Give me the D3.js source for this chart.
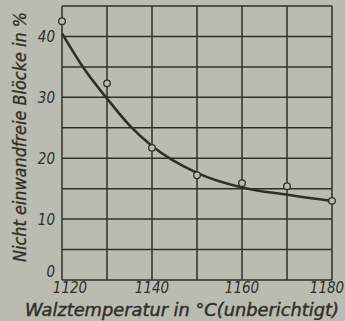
<!DOCTYPE html>
<html>
<head>
<meta charset="utf-8">
<script src="https://cdn.jsdelivr.net/npm/d3@7"></script>
<style>
  html, body { margin: 0; padding: 0; background: #bbbcb1; }
  svg { display: block; }
  text { font-family: "DejaVu Sans Condensed", "DejaVu Sans", sans-serif; font-style: italic; fill: #2f2f2a; }
</style>
</head>
<body>
<svg id="chart"></svg>
<script>
// Messpunkte (Kreise)
var pointTemps = [1120, 1130, 1140, 1150, 1160, 1170, 1180];
var pointValues = [42.5, 32.3, 21.7, 17.2, 15.9, 15.4, 13.0];

// Ausgleichskurve
var curveTemps = [1120, 1125, 1130, 1135, 1140, 1150, 1160, 1170, 1180];
var curveValues = [40.5, 34.6, 29.8, 25.4, 22.0, 17.6, 15.2, 14.0, 13.0];

// Achsenbeschriftung
var xTicks = [1120, 1140, 1160, 1180];
var yTicks = [0, 10, 20, 30, 40];

var width = 345,
    height = 321,
    margin = { top: 6, right: 13, bottom: 41, left: 62 };

var ink = "#2f2f2a";

var svg = d3.select("#chart")
  .attr("width", width)
  .attr("height", height);

var x = d3.scaleLinear()
  .domain([1120, 1180])
  .range([margin.left, width - margin.right]);

var y = d3.scaleLinear()
  .domain([0, 45])
  .range([height - margin.bottom, margin.top]);

// Gitter
svg.append("g")
  .selectAll("line")
  .data(d3.range(1120, 1181, 10))
  .enter().append("line")
  .attr("x1", function(d) { return x(d); })
  .attr("x2", function(d) { return x(d); })
  .attr("y1", y(0))
  .attr("y2", y(45))
  .attr("stroke", ink)
  .attr("stroke-width", 1.5);

svg.append("g")
  .selectAll("line")
  .data(d3.range(0, 46, 5))
  .enter().append("line")
  .attr("x1", x(1120))
  .attr("x2", x(1180))
  .attr("y1", function(d) { return y(d); })
  .attr("y2", function(d) { return y(d); })
  .attr("stroke", ink)
  .attr("stroke-width", 1.5);

// Kurve
var line = d3.line()
  .x(function(d) { return x(d[0]); })
  .y(function(d) { return y(d[1]); })
  .curve(d3.curveMonotoneX);

svg.append("path")
  .datum(d3.zip(curveTemps, curveValues))
  .attr("d", line)
  .attr("fill", "none")
  .attr("stroke", ink)
  .attr("stroke-width", 2.6);

// Punkte
svg.append("g")
  .selectAll("circle")
  .data(d3.zip(pointTemps, pointValues))
  .enter().append("circle")
  .attr("cx", function(d) { return x(d[0]); })
  .attr("cy", function(d) { return y(d[1]); })
  .attr("r", 3.3)
  .attr("fill", "#bbbcb1")
  .attr("stroke", ink)
  .attr("stroke-width", 1.3);

// Tick-Beschriftungen
svg.append("g")
  .selectAll("text")
  .data(yTicks)
  .enter().append("text")
  .attr("x", x(1120) - 7)
  .attr("y", function(d) { return y(d) + (d === 0 ? -3 : 6); })
  .attr("text-anchor", "end")
  .style("font-size", "15px")
  .text(function(d) { return d; });

svg.append("g")
  .selectAll("text")
  .data(xTicks)
  .enter().append("text")
  .attr("x", function(d) { return Math.max(70, Math.min(327, x(d))); })
  .attr("y", y(0) + 13)
  .attr("text-anchor", "middle")
  .style("font-size", "15px")
  .text(function(d) { return d; });

// Achsentitel
svg.append("text")
  .attr("x", 182)
  .attr("y", 316)
  .attr("text-anchor", "middle")
  .attr("textLength", 314)
  .attr("lengthAdjust", "spacingAndGlyphs")
  .style("font-size", "17px")
  .style("stroke", ink)
  .style("stroke-width", 0.4)
  .text("Walztemperatur in °C(unberichtigt)");

svg.append("text")
  .attr("transform", "translate(26,137) rotate(-90)")
  .attr("text-anchor", "middle")
  .attr("textLength", 250)
  .attr("lengthAdjust", "spacingAndGlyphs")
  .style("font-size", "17px")
  .style("stroke", ink)
  .style("stroke-width", 0.3)
  .text("Nicht einwandfreie Blöcke in %");
</script>
</body>
</html>
